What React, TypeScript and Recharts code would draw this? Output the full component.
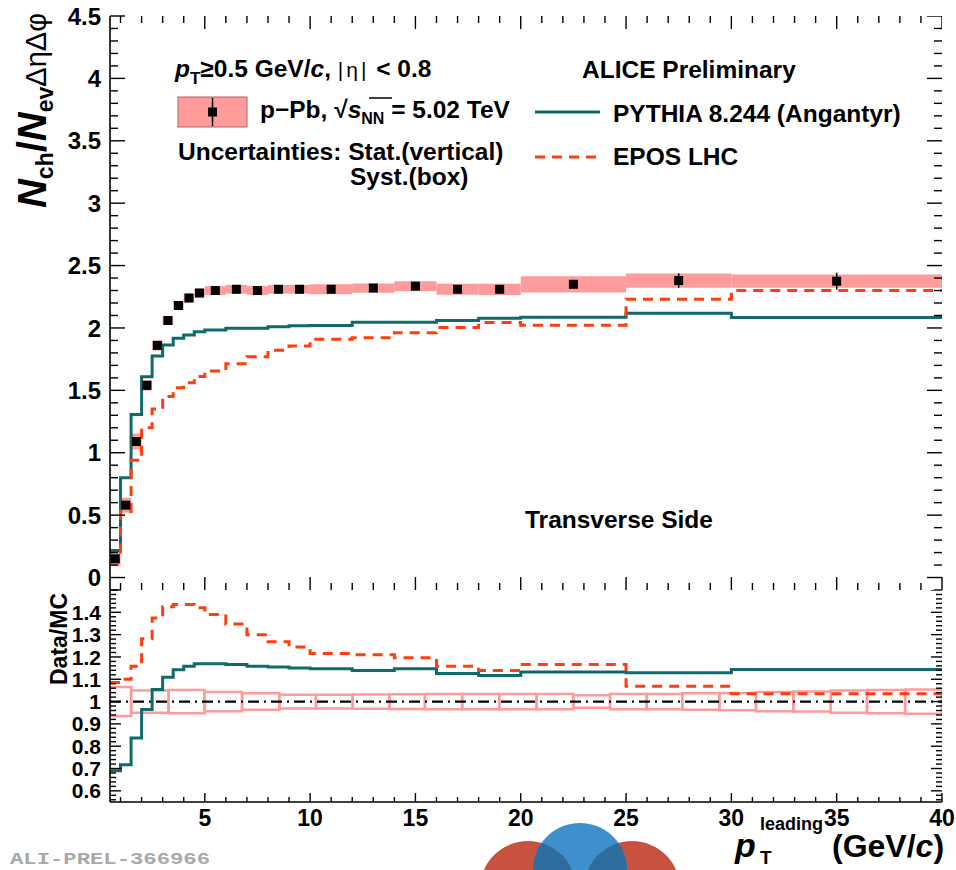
import React from 'react';
import {
  ComposedChart,
  Line,
  Scatter,
  ErrorBar,
  XAxis,
  YAxis,
  ReferenceArea,
  ReferenceLine,
} from 'recharts';

const FONT = "'Liberation Sans', Arial, Helvetica, sans-serif";
const TEAL = '#0f6b6b';
const RED = '#ff3d0d';
const PINK = '#ff9b9b';

// pT bins (GeV/c)
const binEdges = [0.5, 1, 1.5, 2, 2.5, 3, 3.5, 4, 4.5, 5, 6, 7, 8, 9, 10, 12, 14, 16, 18, 20, 25, 30, 40];

// p-Pb data, transverse side
const dataValues = [0.15, 0.58, 1.09, 1.54, 1.86, 2.06, 2.18, 2.24, 2.28, 2.3, 2.31, 2.3, 2.31, 2.31, 2.31, 2.32, 2.335, 2.31, 2.31, 2.35, 2.38, 2.375];
const statErrors = [0.005, 0.005, 0.005, 0.005, 0.005, 0.005, 0.005, 0.005, 0.005, 0.005, 0.005, 0.005, 0.005, 0.005, 0.006, 0.006, 0.008, 0.01, 0.012, 0.015, 0.058, 0.068];
const systErrors = [0.06, 0.06, 0.064, 0.043, 0.04, 0.036, 0.035, 0.035, 0.035, 0.035, 0.035, 0.035, 0.035, 0.035, 0.04, 0.037, 0.04, 0.044, 0.045, 0.065, 0.057, 0.053];

// MC curves
const pythiaValues = [0.217, 0.8, 1.307, 1.609, 1.775, 1.863, 1.917, 1.944, 1.97, 1.984, 1.997, 1.997, 2.01, 2.017, 2.019, 2.045, 2.045, 2.059, 2.078, 2.086, 2.118, 2.083];
const eposValues = [0.14, 0.53, 0.94, 1.2, 1.35, 1.45, 1.52, 1.56, 1.61, 1.655, 1.714, 1.769, 1.822, 1.855, 1.909, 1.922, 1.962, 2.003, 2.043, 2.022, 2.23, 2.3];

// Data/MC
const ratioPythia = [0.69, 0.717, 0.837, 0.964, 1.054, 1.109, 1.143, 1.158, 1.17, 1.17, 1.166, 1.158, 1.155, 1.151, 1.147, 1.139, 1.147, 1.126, 1.117, 1.132, 1.129, 1.144];
const ratioEpos = [1.085, 1.1, 1.158, 1.281, 1.375, 1.425, 1.435, 1.435, 1.42, 1.39, 1.348, 1.3, 1.268, 1.245, 1.215, 1.21, 1.196, 1.158, 1.139, 1.166, 1.069, 1.035];
const ratioBoxEdges = [0.5, 1.5, 3.28, 4.99, 6.77, 8.54, 10.28, 12.02, 13.77, 15.45, 17.22, 18.98, 20.75, 22.49, 24.24, 25.98, 27.67, 29.43, 31.17, 32.94, 34.72, 36.44, 38.25, 40];
const ratioBoxHalf = [0.065, 0.05, 0.052, 0.043, 0.037, 0.031, 0.031, 0.032, 0.033, 0.034, 0.034, 0.034, 0.034, 0.028, 0.034, 0.034, 0.037, 0.039, 0.043, 0.045, 0.05, 0.052, 0.054];

const xLabels = ['5', '10', '15', '20', '25', '30', '35', '40'];
const mainYLabels = ['0', '0.5', '1', '1.5', '2', '2.5', '3', '3.5', '4', '4.5'];
const ratioYLabels = ['0.6', '0.7', '0.8', '0.9', '1', '1.1', '1.2', '1.3', '1.4'];

const steps = (a: number, b: number, s: number) => {
  const out: number[] = [];
  for (let i = 0; a + i * s <= b + 1e-9; i++) out.push(Math.round((a + i * s) * 1000) / 1000);
  return out;
};
const xTicks = steps(1, 40, 1);
const mainYTicks = steps(-0.1, 4.5, 0.1);
const ratioYTicks = steps(0.56, 1.5, 0.02);

const X_DOM: [number, number] = [0.5, 40];
const MAIN_DOM: [number, number] = [-0.1, 4.5];
const RATIO_DOM: [number, number] = [0.55, 1.5];
// frame geometry (px) shared by the charts' margins and the tick overlay
const PLOT_L = 110;
const PLOT_W = 832;
const MAIN_T = 16;
const MAIN_H = 574;
const RATIO_T = 590;
const RATIO_H = 212;

const stepRows = (vals: number[]) =>
  binEdges.map((e, i) => ({ x: e, y: vals[Math.min(i, vals.length - 1)] }));

const points = dataValues.map((v, i) => ({
  x: (binEdges[i] + binEdges[i + 1]) / 2,
  y: v,
  err: statErrors[i],
}));

const fmt = (v: number) => String(Math.round(v * 100) / 100);
const isMult = (v: number, s: number) => Math.abs(v / s - Math.round(v / s)) < 1e-6;

// axis labels only; tick marks are drawn separately
function makeLabel(side: 'left' | 'bottom', labels: string[], size: number) {
  return (props: any) => {
    const x = Number(props.x);
    const y = Number(props.y);
    const s = fmt(Number(props.payload.value));
    if (!labels.includes(s)) return <g />;
    return side === 'left' ? (
      <text x={x - 9} y={y} dy="0.36em" textAnchor="end" fontSize={size} fontWeight="bold" fontFamily={FONT} fill="#000">{s}</text>
    ) : (
      <text x={x} y={y + 24} textAnchor="middle" fontSize={size} fontWeight="bold" fontFamily={FONT} fill="#000">{s}</text>
    );
  };
}

type TickRow = { x: number; y: number; dir: 'R' | 'T'; len: number };
// right and top frame ticks, drawn as scatter shapes pointing inwards
function frameTickRows(yDom: [number, number], yTicks: number[], yMajor: number,
  yLen: [number, number], xLen: [number, number], withTop: boolean): TickRow[] {
  const rows: TickRow[] = [];
  yTicks.forEach((v) => rows.push({ x: X_DOM[1], y: v, dir: 'R', len: isMult(v, yMajor) ? yLen[0] : yLen[1] }));
  if (withTop) xTicks.forEach((v) => rows.push({ x: v, y: yDom[1], dir: 'T', len: isMult(v, 5) ? xLen[0] : xLen[1] }));
  return rows;
}

const TickMark = (p: any) => {
  const { cx, cy } = p;
  const { dir, len } = p.payload as TickRow;
  const c = { stroke: '#000', strokeWidth: 1.4 };
  if (dir === 'R') return <line x1={cx - len} x2={cx} y1={cy} y2={cy} {...c} />;
  return <line x1={cx} x2={cx} y1={cy} y2={cy + len} {...c} />;
};

const axisLine = { stroke: '#000', strokeWidth: 1.6 };

const Square = (props: any) => (
  <rect x={props.cx - 4.5} y={props.cy - 4.5} width={9} height={9} fill="#000" />
);

function MainPanel() {
  return (
    <ComposedChart width={956} height={590} margin={{ top: MAIN_T, right: 14, bottom: 0, left: PLOT_L - 60 }}>
      <XAxis xAxisId={0} dataKey="x" type="number" domain={X_DOM} allowDataOverflow ticks={xTicks} interval={0}
        height={0} tickLine={false} tick={false} axisLine={axisLine} />
      <XAxis xAxisId="top" orientation="top" type="number" domain={X_DOM} allowDataOverflow ticks={[]}
        height={0} tickLine={false} tick={false} axisLine={axisLine} />
      <YAxis yAxisId={0} dataKey="y" type="number" domain={MAIN_DOM} allowDataOverflow ticks={mainYTicks} interval={0}
        width={60} tickSize={0} tickMargin={0} tickLine={false} axisLine={axisLine} tick={makeLabel('left', mainYLabels, 24)} />
      <YAxis yAxisId="right" orientation="right" type="number" domain={MAIN_DOM} allowDataOverflow ticks={[]}
        width={0} tickLine={false} tick={false} axisLine={axisLine} />
      {dataValues.map((v, i) => (
        <ReferenceArea key={'s' + i} x1={binEdges[i]} x2={binEdges[i + 1]} y1={v - systErrors[i]} y2={v + systErrors[i]}
          fill={PINK} fillOpacity={1} stroke="none" ifOverflow="hidden" />
      ))}
      <Line data={stepRows(pythiaValues)} dataKey="y" type="stepAfter" stroke={TEAL} strokeWidth={3} dot={false} isAnimationActive={false} />
      <Line data={stepRows(eposValues)} dataKey="y" type="stepAfter" stroke={RED} strokeWidth={3} strokeDasharray="10 7" dot={false} isAnimationActive={false} />
      <Scatter data={points} dataKey="y" shape={Square} isAnimationActive={false}>
        <ErrorBar dataKey="err" direction="y" width={0} stroke="#000" strokeWidth={1.5} />
      </Scatter>
      <Scatter data={frameTickRows(MAIN_DOM, mainYTicks, 0.5, [15, 8], [13, 7], true)} dataKey="y"
        shape={TickMark} isAnimationActive={false} />
    </ComposedChart>
  );
}

function RatioPanel() {
  return (
    <ComposedChart width={956} height={242} margin={{ top: 0, right: 14, bottom: 0, left: PLOT_L - 60 }}>
      <XAxis xAxisId={0} dataKey="x" type="number" domain={X_DOM} allowDataOverflow ticks={xTicks} interval={0}
        height={30} tickSize={0} tickMargin={0} tickLine={false} axisLine={axisLine} tick={makeLabel('bottom', xLabels, 23)} />
      <XAxis xAxisId="top" orientation="top" type="number" domain={X_DOM} allowDataOverflow ticks={[]}
        height={0} tickLine={false} tick={false} axisLine={axisLine} />
      <YAxis yAxisId={0} dataKey="y" type="number" domain={RATIO_DOM} allowDataOverflow ticks={ratioYTicks} interval={0}
        width={60} tickSize={0} tickMargin={0} tickLine={false} axisLine={axisLine} tick={makeLabel('left', ratioYLabels, 21)} />
      <YAxis yAxisId="right" orientation="right" type="number" domain={RATIO_DOM} allowDataOverflow ticks={[]}
        width={0} tickLine={false} tick={false} axisLine={axisLine} />
      {ratioBoxHalf.map((h, i) => (
        <ReferenceArea key={'r' + i} x1={ratioBoxEdges[i]} x2={ratioBoxEdges[i + 1]} y1={1 - h} y2={1 + h}
          fill="none" stroke={PINK} strokeWidth={2.5} ifOverflow="hidden" />
      ))}
      <ReferenceLine y={1} stroke="#000" strokeWidth={2.2} strokeDasharray="11 5 2 5" />
      <Line data={stepRows(ratioPythia)} dataKey="y" type="stepAfter" stroke={TEAL} strokeWidth={3} dot={false} isAnimationActive={false} />
      <Line data={stepRows(ratioEpos)} dataKey="y" type="stepAfter" stroke={RED} strokeWidth={3} strokeDasharray="10 7" dot={false} isAnimationActive={false} />
      <Scatter data={frameTickRows(RATIO_DOM, ratioYTicks, 0.1, [11, 6], [9, 5], false)} dataKey="y"
        shape={TickMark} isAnimationActive={false} />
    </ComposedChart>
  );
}

// left and bottom frame ticks (same frame geometry as the charts)
function LeftBottomTicks() {
  const px = (x: number) => PLOT_L + ((x - X_DOM[0]) / (X_DOM[1] - X_DOM[0])) * PLOT_W;
  const pyMain = (y: number) => MAIN_T + ((MAIN_DOM[1] - y) / (MAIN_DOM[1] - MAIN_DOM[0])) * MAIN_H;
  const pyRatio = (y: number) => RATIO_T + ((RATIO_DOM[1] - y) / (RATIO_DOM[1] - RATIO_DOM[0])) * RATIO_H;
  const c = { stroke: '#000', strokeWidth: 1.4 };
  const out: React.ReactNode[] = [];
  mainYTicks.forEach((v, i) => {
    const len = isMult(v, 0.5) ? 15 : 8;
    out.push(<line key={'ml' + i} x1={PLOT_L} x2={PLOT_L + len} y1={pyMain(v)} y2={pyMain(v)} {...c} />);
  });
  ratioYTicks.forEach((v, i) => {
    const len = isMult(v, 0.1) ? 11 : 6;
    out.push(<line key={'rl' + i} x1={PLOT_L} x2={PLOT_L + len} y1={pyRatio(v)} y2={pyRatio(v)} {...c} />);
  });
  xTicks.forEach((v, i) => {
    const big = isMult(v, 5);
    const yb = MAIN_T + MAIN_H;
    const yr = RATIO_T + RATIO_H;
    out.push(<line key={'mb' + i} x1={px(v)} x2={px(v)} y1={yb - (big ? 13 : 7)} y2={yb} {...c} />);
    out.push(<line key={'rb' + i} x1={px(v)} x2={px(v)} y1={yr - (big ? 9 : 5)} y2={yr} {...c} />);
  });
  return <g>{out}</g>;
}

function Overlay() {
  const t = { fontFamily: FONT, fontWeight: 'bold' as const, fontSize: 24.5, fill: '#000' };
  return (
    <svg width={956} height={870} style={{ position: 'absolute', left: 0, top: 0, pointerEvents: 'none' }}>
      <defs>
        <clipPath id="blueClip">
          <circle cx={580} cy={870} r={47} />
        </clipPath>
      </defs>
      <LeftBottomTicks />
      {/* logo */}
      <circle cx={528} cy={889} r={48} fill="#c8513f" />
      <circle cx={632} cy={889} r={48} fill="#c8513f" />
      <circle cx={580} cy={870} r={47} fill="#3d90cc" />
      <g clipPath="url(#blueClip)">
        <circle cx={528} cy={889} r={48} fill="#2f6d9e" />
        <circle cx={632} cy={889} r={48} fill="#2f6d9e" />
      </g>

      <text {...t} x={175} y={77}>
        <tspan fontStyle="italic">p</tspan>
        <tspan fontSize={17} dy={7}>T</tspan>
        <tspan dy={-7}>≥0.5 GeV/</tspan>
        <tspan fontStyle="italic">c</tspan>
        <tspan>, </tspan>
        <tspan fontWeight="normal" fontSize={21} letterSpacing={3}>|η|</tspan>
        <tspan> &lt; 0.8</tspan>
      </text>
      <text {...t} x={582} y={78}>ALICE Preliminary</text>

      <rect x={178} y={97} width={69} height={30} fill={PINK} stroke="#b56060" strokeWidth={1} />
      <line x1={212.5} x2={212.5} y1={98} y2={126} stroke="#000" strokeWidth={1.5} />
      <rect x={208} y={107.5} width={9} height={9} fill="#000" />
      <text {...t} x={260} y={118}>
        <tspan>p−Pb, √</tspan>
        <tspan fontStyle="italic">s</tspan>
        <tspan fontSize={16} dy={6}>NN</tspan>
        <tspan dy={-6}> = 5.02 TeV</tspan>
      </text>
      <line x1={369} x2={392} y1={98} y2={98} stroke="#000" strokeWidth={1.5} />

      <text {...t} x={178} y={160}>Uncertainties: Stat.(vertical)</text>
      <text {...t} x={350} y={185}>Syst.(box)</text>

      <line x1={535} x2={600} y1={112} y2={112} stroke={TEAL} strokeWidth={3} />
      <text {...t} x={613} y={122}>PYTHIA 8.244 (Angantyr)</text>
      <line x1={535} x2={600} y1={157} y2={157} stroke={RED} strokeWidth={3} strokeDasharray="10 7" />
      <text {...t} x={613} y={165}>EPOS LHC</text>

      <text {...t} x={525} y={528}>Transverse Side</text>

      {/* axis titles */}
      <text {...t} transform="translate(46,13) rotate(-90)" textAnchor="end" fontSize={40}>
        <tspan fontStyle="italic">N</tspan>
        <tspan fontSize={23} dy={7}>ch</tspan>
        <tspan dy={-7}>/</tspan>
        <tspan fontStyle="italic">N</tspan>
        <tspan fontSize={23} dy={7}>ev</tspan>
        <tspan dy={-7} fontWeight="normal" fontSize={29}>ΔηΔφ</tspan>
      </text>
      <text {...t} transform="translate(67,593) rotate(-90)" textAnchor="end" fontSize={23}>Data/MC</text>

      <text {...t} x={735} y={857} fontSize={34}>
        <tspan fontStyle="italic">p</tspan>
        <tspan x={760} dy={-27} fontSize={18}>leading</tspan>
        <tspan x={760} dy={34} fontSize={19}>T</tspan>
        <tspan x={832} dy={-7} fontSize={32}>(GeV/</tspan>
        <tspan fontSize={32} fontStyle="italic">c</tspan>
        <tspan fontSize={32}>)</tspan>
      </text>

      <text x={10} y={864} fontFamily="'Liberation Mono', 'DejaVu Sans Mono', monospace" fontWeight="bold" fontSize={16}
        fill="#a9a9a9" textLength={200} lengthAdjust="spacingAndGlyphs">
        ALI-PREL-366966
      </text>
    </svg>
  );
}

export default function App() {
  return (
    <div style={{ position: 'absolute', left: 0, top: 0, width: 956, height: 870, overflow: 'hidden', background: '#fff' }}>
      <div style={{ position: 'absolute', left: 0, top: 0 }}>
        <MainPanel />
      </div>
      <div style={{ position: 'absolute', left: 0, top: RATIO_T }}>
        <RatioPanel />
      </div>
      <Overlay />
    </div>
  );
}
